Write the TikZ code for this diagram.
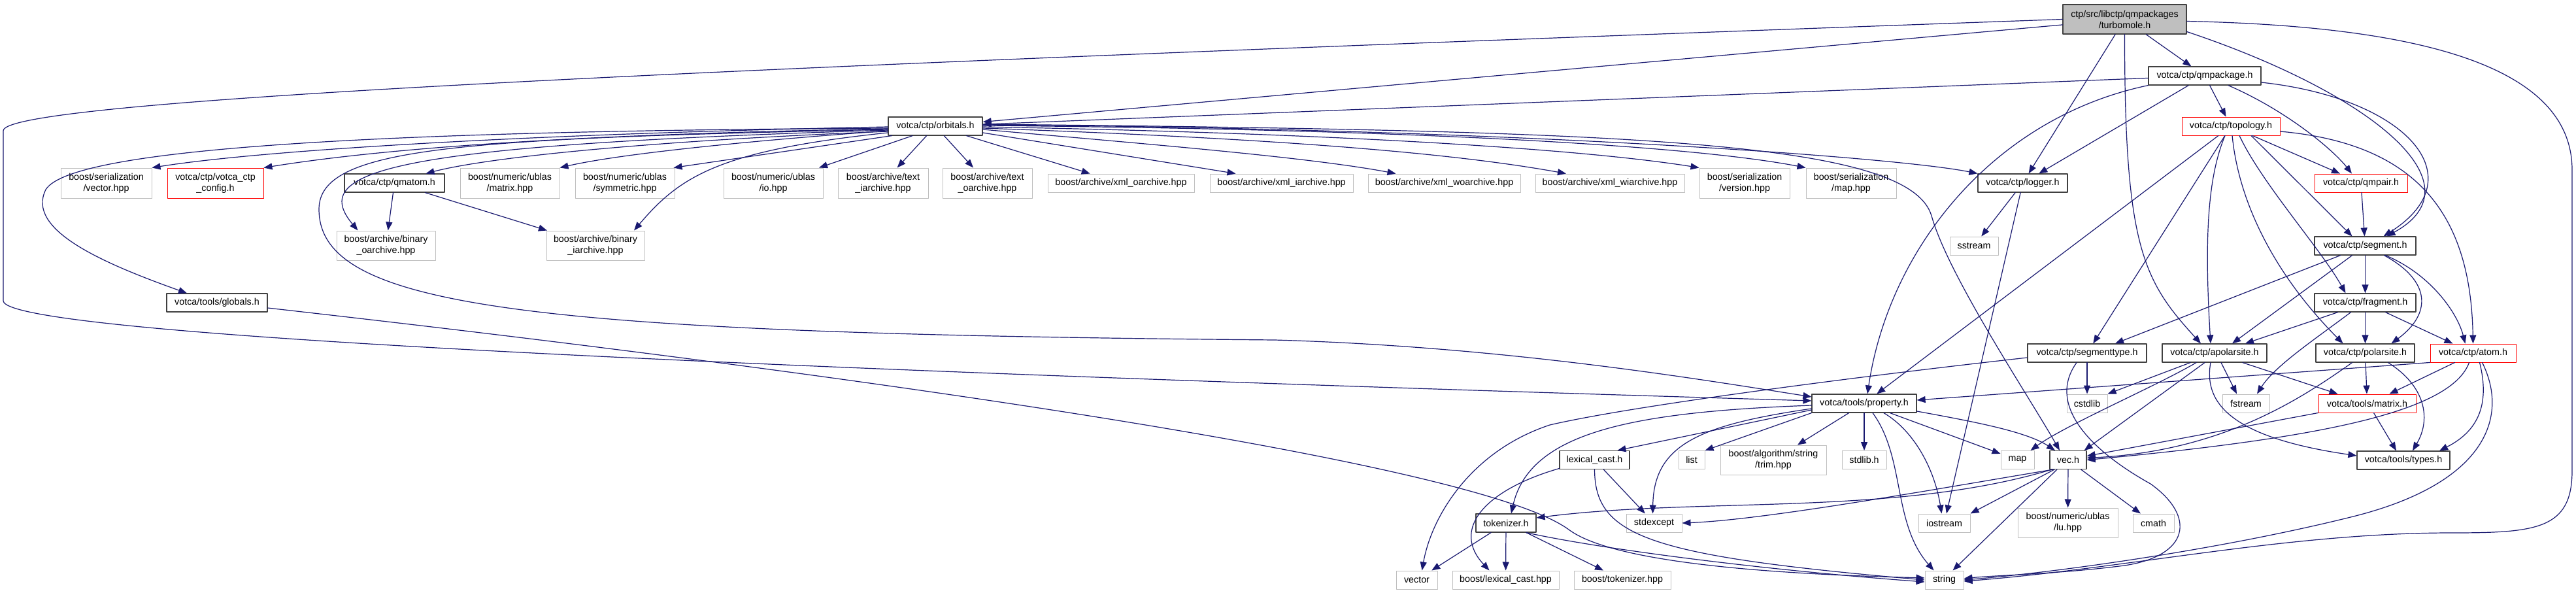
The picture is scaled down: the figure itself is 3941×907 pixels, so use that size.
\documentclass[tikz,border=0pt]{standalone}
\usepackage{fontspec}
\setmainfont{Liberation Sans}
\usetikzlibrary{arrows.meta}
\definecolor{edgeblue}{HTML}{191970}
\definecolor{boxgray}{HTML}{BFBFBF}
\begin{document}
\begin{tikzpicture}[x=1pt,y=-1pt,line join=round,line cap=round,
	every node/.style={font=\fontsize{14.3}{17}\selectfont,align=center,inner sep=2pt,fill=white},
	incl/.style={draw=black!75,line width=1.2pt},
	sys/.style={draw=boxgray,line width=1pt},
	trunc/.style={draw=red,line width=0.9pt},
	root/.style={draw=black!75,fill=boxgray,line width=1.2pt},
	sz/.style 2 args={minimum width=#1pt,minimum height=#2pt},
	dep/.style={draw=edgeblue,line width=1.2pt,-{Triangle[length=13pt,width=10pt]}}]
	\useasboundingbox (0,0) rectangle (3941,907);
	\fill[white] (0,0) rectangle (3941,907);
	% rangée du haut
	\node[root,sz={189}{45}] (turbomole) at (3250.5,29.5) {ctp/src/libctp/qmpackages\\/turbomole.h};
	\node[incl,sz={172}{28}] (qmpackage) at (3373,116) {votca/ctp/qmpackage.h};
	\node[incl,sz={144}{28}] (orbitals) at (1431,193) {votca/ctp/orbitals.h};
	\node[trunc,sz={150}{28}] (topology) at (3413,193) {votca/ctp/topology.h};
	% en-têtes inclus par orbitals.h
	\node[sys,sz={139}{46}] (servector) at (162.5,280) {boost/serialization\\/vector.hpp};
	\node[trunc,sz={147}{46}] (ctpconfig) at (329.5,280) {votca/ctp/votca\_ctp\\\_config.h};
	\node[incl,sz={153}{28}] (qmatom) at (603.5,280) {votca/ctp/qmatom.h};
	\node[sys,sz={152}{46}] (ublasmatrix) at (780,280) {boost/numeric/ublas\\/matrix.hpp};
	\node[sys,sz={152}{46}] (ublassym) at (956,280) {boost/numeric/ublas\\/symmetric.hpp};
	\node[sys,sz={152}{46}] (ublasio) at (1183,280) {boost/numeric/ublas\\/io.hpp};
	\node[sys,sz={138}{46}] (textiarch) at (1351,280) {boost/archive/text\\\_iarchive.hpp};
	\node[sys,sz={137}{46}] (textoarch) at (1510.5,280) {boost/archive/text\\\_oarchive.hpp};
	\node[sys,sz={224}{28}] (xmloarch) at (1715,280) {boost/archive/xml\_oarchive.hpp};
	\node[sys,sz={219}{28}] (xmliarch) at (1960.5,280) {boost/archive/xml\_iarchive.hpp};
	\node[sys,sz={233}{28}] (xmlwoarch) at (2209.5,280) {boost/archive/xml\_woarchive.hpp};
	\node[sys,sz={228}{28}] (xmlwiarch) at (2463,280) {boost/archive/xml\_wiarchive.hpp};
	\node[sys,sz={138}{46}] (serversion) at (2669,280) {boost/serialization\\/version.hpp};
	\node[sys,sz={138}{46}] (sermap) at (2832,280) {boost/serialization\\/map.hpp};
	\node[incl,sz={137}{28}] (logger) at (3094.5,280) {votca/ctp/logger.h};
	\node[trunc,sz={142}{28}] (qmpair) at (3612,280) {votca/ctp/qmpair.h};
	\node[sys,sz={151}{45}] (binoarch) at (590.5,375.5) {boost/archive/binary\\\_oarchive.hpp};
	\node[sys,sz={150}{45}] (biniarch) at (911,375.5) {boost/archive/binary\\\_iarchive.hpp};
	\node[sys,sz={74}{28}] (sstream) at (3020,376) {sstream};
	\node[incl,sz={155}{28}] (segment) at (3618.5,376) {votca/ctp/segment.h};
	\node[incl,sz={154}{28}] (globals) at (332,463) {votca/tools/globals.h};
	\node[incl,sz={155}{28}] (fragment) at (3618.5,463) {votca/ctp/fragment.h};
	\node[incl,sz={182}{28}] (segtype) at (3193,540) {votca/ctp/segmenttype.h};
	\node[incl,sz={160}{28}] (apolarsite) at (3388,540) {votca/ctp/apolarsite.h};
	\node[incl,sz={151}{28}] (polarsite) at (3618.5,540) {votca/ctp/polarsite.h};
	\node[trunc,sz={131}{28}] (atom) at (3783.5,540) {votca/ctp/atom.h};
	% votca/tools et la bibliothèque standard
	\node[incl,sz={160}{28}] (property) at (2852,617) {votca/tools/property.h};
	\node[sys,sz={62}{28}] (cstdlib) at (3193,617) {cstdlib};
	\node[sys,sz={72}{28}] (fstream) at (3436,617) {fstream};
	\node[trunc,sz={149}{28}] (tmatrix) at (3621.5,617) {votca/tools/matrix.h};
	\node[sys,sz={162}{45}] (trim) at (2713,703.5) {boost/algorithm/string\\/trim.hpp};
	\node[sys,sz={68}{28}] (stdlibh) at (2852,703.5) {stdlib.h};
	\node[sys,sz={51}{28}] (map) at (3086.5,703.5) {map};
	\node[incl,sz={56}{28}] (vech) at (3164,703.5) {vec.h};
	\node[incl,sz={107}{28}] (lexcast) at (2439.5,703.5) {lexical\_cast.h};
	\node[sys,sz={40}{28}] (list) at (2588,703.5) {list};
	\node[incl,sz={142}{28}] (types) at (3677,704) {votca/tools/types.h};
	\node[incl,sz={92}{28}] (tokenizer) at (2304,800) {tokenizer.h};
	\node[sys,sz={85}{28}] (stdexcept) at (2530.5,800) {stdexcept};
	\node[sys,sz={79}{28}] (iostream) at (2974.5,800) {iostream};
	\node[sys,sz={153}{45}] (lu) at (3163.5,799.5) {boost/numeric/ublas\\/lu.hpp};
	\node[sys,sz={63}{28}] (cmath) at (3294.5,800) {cmath};
	\node[sys,sz={63}{28}] (vector) at (2167.5,887) {vector};
	\node[sys,sz={163}{28}] (blexcast) at (2303.5,887) {boost/lexical\_cast.hpp};
	\node[sys,sz={148}{28}] (btokenizer) at (2482,887) {boost/tokenizer.hpp};
	\node[sys,sz={59}{28}] (string) at (2974.5,887) {string};
	% turbomole.h
	\draw[dep] (turbomole.west) .. controls (1200,100) and (5,150) .. (5,200) -- (5,460) .. controls (5,520) and (1500,575) .. ([yshift=4pt]property.west);
	\draw[dep] (turbomole) -- (orbitals);
	\draw[dep] (turbomole) -- (qmpackage);
	\draw[dep] (turbomole) -- (logger);
	\draw[dep] (turbomole.south) .. controls (3250,380) and (3280,430) .. ([xshift=-21pt]apolarsite.north);
	\draw[dep] ([yshift=-19pt]turbomole.east) .. controls (3620,140) and (3800,280) .. ([xshift=33pt]segment.north);
	\draw[dep] ([yshift=-3pt]turbomole.east) .. controls (3700,40) and (3935,100) .. (3935,260) -- (3935,720) .. controls (3935,810) and (3880,815) .. (3750,815) .. controls (3500,815) and (3250,870) .. ([yshift=-2pt]string.east);
	% qmpackage.h
	\draw[dep] (qmpackage) -- (orbitals);
	\draw[dep] (qmpackage.south west) .. controls (3050,180) and (2890,380) .. ([xshift=5pt]property.north);
	\draw[dep] (qmpackage) -- (logger);
	\draw[dep] (qmpackage) -- (topology);
	\draw[dep] ([xshift=36pt]qmpackage.south) .. controls (3500,170) and (3570,230) .. ([xshift=-14pt]qmpair.north);
	\draw[dep] ([yshift=-10pt]qmpackage.east) .. controls (3680,150) and (3790,270) .. ([xshift=28pt]segment.north);
	% orbitals.h
	\draw[dep] ([yshift=-3pt]orbitals.west) .. controls (600,200) and (110,225) .. (70,290) .. controls (40,350) and (150,400) .. ([xshift=-46pt]globals.north);
	\draw[dep] ([yshift=-1pt]orbitals.west) .. controls (800,205) and (400,230) .. (servector.north east);
	\draw[dep] ([yshift=-4pt]orbitals.west) .. controls (900,205) and (600,225) .. (ctpconfig.north east);
	\draw[dep] ([yshift=-5pt]orbitals.west) .. controls (700,212) and (488,225) .. (488,320) .. controls (488,470) and (800,510) .. (1950,520) .. controls (2300,530) and (2600,580) .. ([yshift=10pt]property.west);
	\draw[dep] ([yshift=-6pt]orbitals.west) .. controls (600,222) and (470,260) .. ([xshift=-43pt]binoarch.north);
	\draw[dep] ([yshift=-8pt]orbitals.west) .. controls (1000,215) and (750,240) .. ([xshift=48pt]qmatom.north);
	\draw[dep] ([yshift=-10pt]orbitals.west) .. controls (1100,230) and (1040,270) .. ([xshift=59pt]biniarch.north);
	\draw[dep] ([yshift=-7pt]orbitals.west) .. controls (1150,215) and (950,235) .. (ublasmatrix.north east);
	\draw[dep] ([xshift=6pt]orbitals.south west) -- ([xshift=-2pt]ublassym.north east);
	\draw[dep] ([xshift=-35pt]orbitals.south) -- ([xshift=70pt]ublasio.north);
	\draw[dep] (orbitals) -- (textiarch);
	\draw[dep] (orbitals) -- (textoarch);
	\draw[dep] (orbitals) -- (xmloarch);
	\draw[dep] ([yshift=-10pt]orbitals.east) -- ([xshift=-70pt]xmliarch.north);
	\draw[dep] ([yshift=-5pt]orbitals.east) .. controls (1750,220) and (2000,240) .. ([xshift=-74pt]xmlwoarch.north);
	\draw[dep] ([yshift=-3pt]orbitals.east) .. controls (1900,210) and (2200,230) .. ([xshift=-67pt]xmlwiarch.north);
	\draw[dep] ([yshift=-1pt]orbitals.east) .. controls (2000,203) and (2400,225) .. (serversion.north west);
	\draw[dep] ([yshift=1pt]orbitals.east) .. controls (2200,198) and (2600,225) .. (sermap.north west);
	\draw[dep] ([yshift=2pt]orbitals.east) .. controls (2300,196) and (2900,240) .. (logger.north west);
	\draw[dep] ([yshift=3pt]orbitals.east) .. controls (2500,200) and (2920,215) .. (2955,330) .. controls (2980,420) and (3100,600) .. ([xshift=-13pt]vech.north);
	\draw[dep] (qmatom) -- (binoarch);
	\draw[dep] (qmatom) -- (biniarch);
	\draw[dep] ([yshift=-8pt]globals.east) .. controls (1200,560) and (2250,700) .. (2400,810) .. controls (2480,870) and (2800,880) .. ([yshift=3pt]string.west);
	% topology.h
	\draw[dep] (topology) -- (property);
	\draw[dep] (topology) -- (segtype);
	\draw[dep] ([xshift=-9pt]topology.south) .. controls (3378,270) and (3372,360) .. ([xshift=-6pt]apolarsite.north);
	\draw[dep] ([xshift=2pt]topology.south) .. controls (3425,310) and (3480,420) .. ([xshift=-34pt]polarsite.north);
	\draw[dep] ([xshift=13pt]topology.south) .. controls (3460,280) and (3550,380) .. ([xshift=-30pt]fragment.north);
	\draw[dep] ([xshift=31pt]topology.south) -- ([xshift=-20pt]segment.north);
	\draw[dep] ([xshift=33pt]topology.south) -- ([xshift=-32pt]qmpair.north);
	\draw[dep] ([yshift=-8pt]topology.east) .. controls (3700,220) and (3780,330) .. (atom.north);
	\draw[dep] (qmpair) -- (segment);
	% segment.h et fragment.h
	\draw[dep] ([xshift=-38pt]segment.south) -- ([xshift=43pt]segtype.north);
	\draw[dep] ([xshift=-20pt]segment.south) -- ([xshift=27pt]apolarsite.north);
	\draw[dep] (segment) -- (fragment);
	\draw[dep] ([xshift=29pt]segment.south) .. controls (3720,430) and (3720,480) .. ([xshift=40pt]polarsite.north);
	\draw[dep] ([xshift=31pt]segment.south) .. controls (3720,420) and (3760,480) .. ([xshift=-12pt]atom.north);
	\draw[dep] ([xshift=-42pt]fragment.south) -- ([xshift=47pt]apolarsite.north);
	\draw[dep] ([xshift=-22pt]fragment.south) .. controls (3540,520) and (3480,560) .. ([xshift=17pt]fstream.north);
	\draw[dep] (fragment) -- (polarsite);
	\draw[dep] ([xshift=31pt]fragment.south) -- ([xshift=-31pt]atom.north);
	% apolarsite.h, polarsite.h, atom.h
	\draw[dep] ([xshift=-37pt]apolarsite.south) -- (cstdlib.north east);
	\draw[dep] ([xshift=-28pt]apolarsite.south) .. controls (3300,590) and (3160,650) .. ([xshift=20pt]map.north);
	\draw[dep] ([xshift=-15pt]apolarsite.south) -- ([xshift=-4pt]vech.north east);
	\draw[dep] ([xshift=10pt]apolarsite.south) -- ([xshift=-14pt]fstream.north);
	\draw[dep] ([xshift=43pt]apolarsite.south) -- ([xshift=-45pt]tmatrix.north);
	\draw[dep] ([xshift=-6pt]apolarsite.south) .. controls (3370,620) and (3420,670) .. ([yshift=7pt]types.west);
	\draw[dep] (polarsite) -- (tmatrix);
	\draw[dep] ([xshift=35pt]polarsite.south) .. controls (3710,590) and (3720,640) .. ([xshift=14pt]types.north);
	\draw[dep] ([xshift=-20pt]polarsite.south) .. controls (3520,610) and (3400,690) .. ([yshift=3pt]vech.east);
	\draw[dep] (tmatrix.south west) -- ([yshift=6pt]vech.east);
	\draw[dep] ([xshift=10pt]tmatrix.south) -- ([xshift=-11pt]types.north);
	\draw[dep] (atom.south west) -- ([yshift=5pt]property.east);
	\draw[dep] ([xshift=-28pt]atom.south) -- ([xshift=34pt]tmatrix.north);
	\draw[dep] ([xshift=-6pt]atom.south) .. controls (3750,630) and (3550,670) .. (vech.east);
	\draw[dep] ([xshift=10pt]atom.south) .. controls (3810,620) and (3790,660) .. ([xshift=55pt]types.north);
	\draw[dep] ([xshift=14pt]atom.south) .. controls (3840,640) and (3800,740) .. (3600,790) .. controls (3400,840) and (3150,875) .. (string.east);
	% segmenttype.h
	\draw[dep] ([yshift=-7pt]segtype.west) .. controls (2850,575) and (2500,620) .. (2371,650) .. controls (2250,690) and (2190,790) .. ([xshift=8pt]vector.north);
	\draw[dep] (segtype) -- (cstdlib);
	\draw[dep] ([xshift=-16pt]segtype.south) .. controls (3130,620) and (3200,690) .. (3290,740) .. controls (3360,790) and (3350,850) .. (3250,865) .. controls (3150,878) and (3050,880) .. ([yshift=2pt]string.east);
	% property.h
	\draw[dep] (property.south west) -- (list.north east);
	\draw[dep] ([yshift=-10pt]property.west) -- ([xshift=35pt]lexcast.north);
	\draw[dep] ([yshift=-3pt]property.west) .. controls (2500,630) and (2340,660) .. ([xshift=8pt]tokenizer.north);
	\draw[dep] ([yshift=-8pt]property.west) .. controls (2600,650) and (2530,680) .. ([xshift=-2pt]stdexcept.north);
	\draw[dep] (property) -- (trim);
	\draw[dep] (property) -- (stdlibh);
	\draw[dep] ([xshift=13pt]property.south) .. controls (2915,700) and (2895,800) .. ([xshift=-16pt]string.north);
	\draw[dep] ([xshift=30pt]property.south) .. controls (2930,660) and (2960,720) .. ([xshift=-4pt]iostream.north);
	\draw[dep] (property) -- (map);
	\draw[dep] ([yshift=-12pt]property.east) .. controls (3020,645) and (3100,660) .. ([xshift=-20pt]vech.north);
	% lexical_cast.h, tokenizer.h
	\draw[dep] (lexcast) -- (stdexcept);
	\draw[dep] ([yshift=-13pt]lexcast.west) .. controls (2270,750) and (2220,810) .. ([xshift=-25pt]blexcast.north);
	\draw[dep] (lexcast.south) .. controls (2440,820) and (2520,850) .. (string.west);
	\draw[dep] (tokenizer) -- (vector);
	\draw[dep] (tokenizer) -- (blexcast);
	\draw[dep] ([xshift=31pt]tokenizer.south) -- ([xshift=-29pt]btokenizer.north);
	\draw[dep] ([xshift=31pt]tokenizer.south) .. controls (2450,840) and (2700,872) .. ([yshift=-3pt]string.west);
	% vec.h, logger.h
	\draw[dep] ([xshift=-25pt]vech.south) .. controls (2900,790) and (2600,760) .. ([yshift=8pt]tokenizer.east);
	\draw[dep] ([xshift=-23pt]vech.south) .. controls (2950,750) and (2700,795) .. (stdexcept.east);
	\draw[dep] ([xshift=-21pt]vech.south) -- (iostream.north east);
	\draw[dep] ([xshift=-17pt]vech.south) -- ([xshift=13pt]string.north);
	\draw[dep] (vech) -- (lu);
	\draw[dep] (vech) -- (cmath);
	\draw[dep] (logger) -- (sstream);
	\draw[dep] (logger) -- (iostream);
\end{tikzpicture}
\end{document}
